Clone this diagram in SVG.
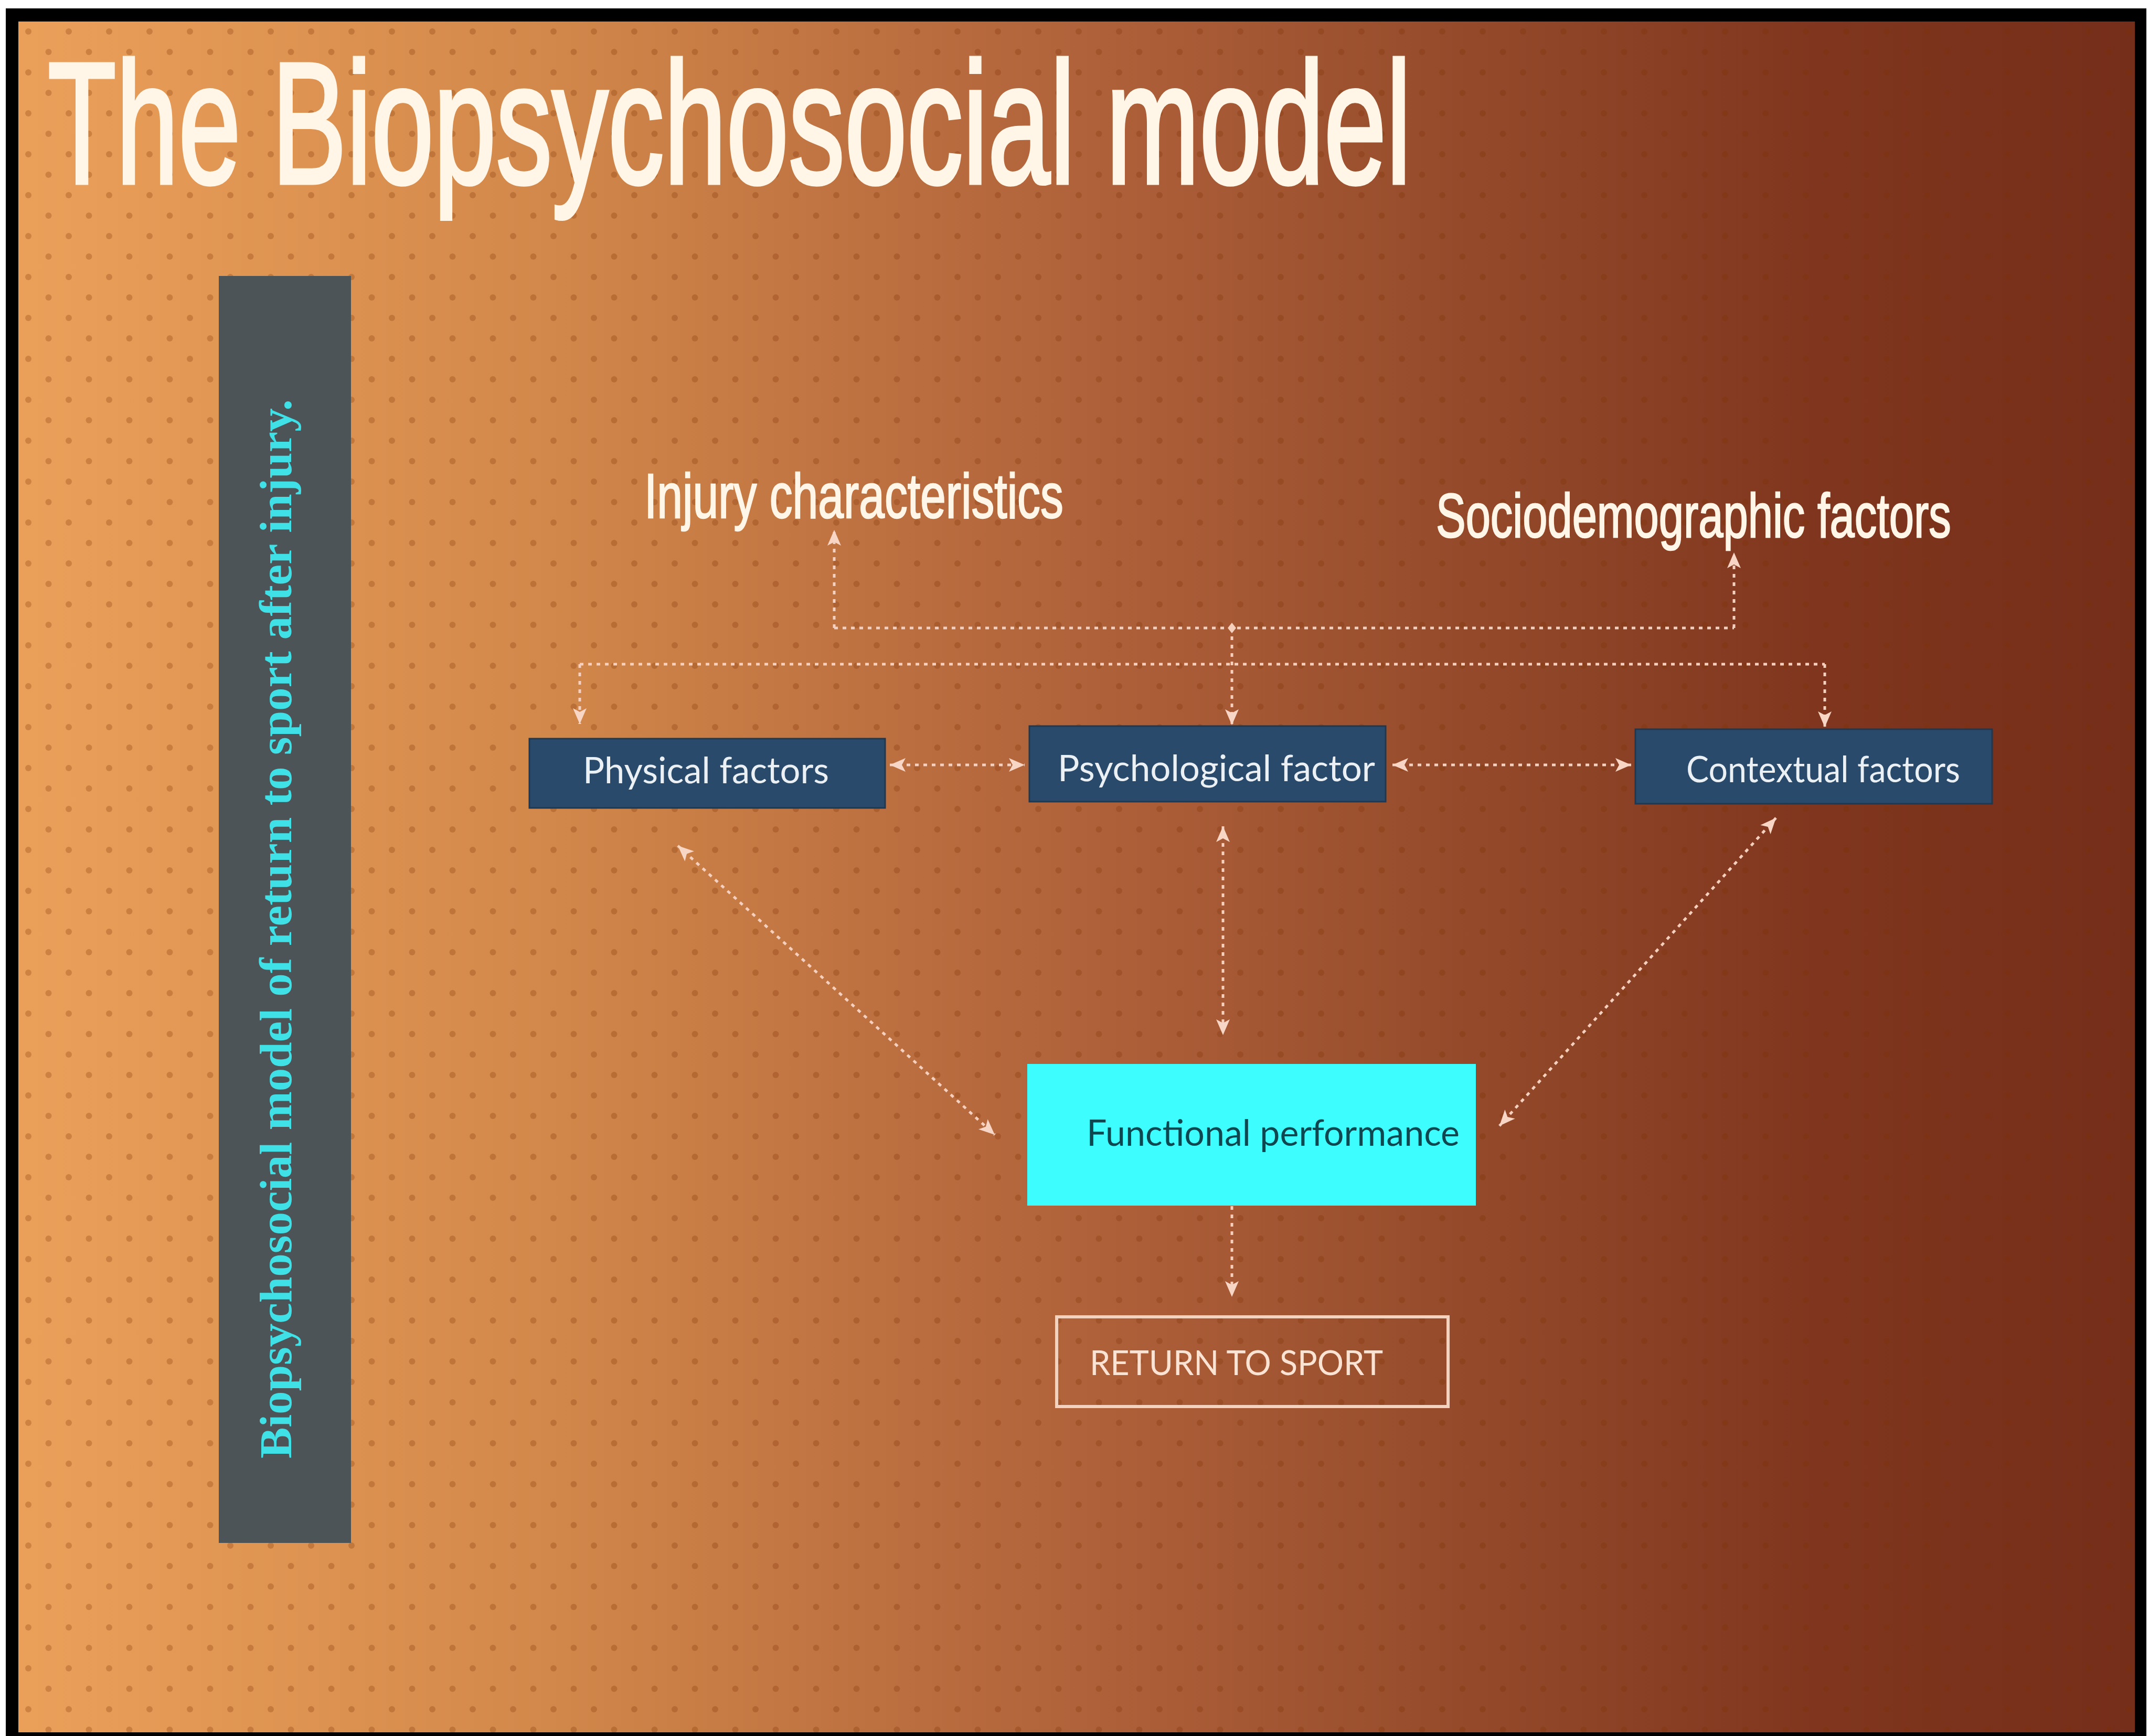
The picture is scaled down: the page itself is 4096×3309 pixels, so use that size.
<svg xmlns="http://www.w3.org/2000/svg" width="4096" height="3309" viewBox="0 0 4096 3309">
<defs>
<linearGradient id="bg" x1="0" y1="0" x2="1" y2="0">
<stop offset="0" stop-color="#EBA05A"/>
<stop offset="0.25" stop-color="#D2884A"/>
<stop offset="0.5" stop-color="#B0623A"/>
<stop offset="0.7" stop-color="#924829"/>
<stop offset="0.85" stop-color="#80361E"/>
<stop offset="1" stop-color="#752E1A"/>
</linearGradient>
<pattern id="dots" x="35" y="41" width="77" height="78" patternUnits="userSpaceOnUse">
<circle cx="19" cy="19" r="6" fill="#7A3000" fill-opacity="0.26"/>
<circle cx="57.5" cy="58" r="6" fill="#7A3000" fill-opacity="0.26"/>
</pattern>
<marker id="ah" markerUnits="userSpaceOnUse" markerWidth="32" markerHeight="28" refX="30" refY="13" orient="auto-start-reverse">
<path d="M0,0 L30,13 L0,26 L7,13 Z" fill="#F8D6C6"/>
</marker>
<style>
.conn{fill:none;stroke:#F6D0BE;stroke-width:5;stroke-dasharray:7 9;}
.box{fill:#2A4A6B;stroke:#1F3850;stroke-width:3;}
.lbl{font-family:Lato,"Open Sans","Liberation Sans",sans-serif;font-size:70px;fill:#EAF0F4;}
.head{font-family:"Liberation Sans Narrow","Liberation Sans",Arial,sans-serif;fill:#FFF6E8;stroke:#FFF6E8;}
</style>
</defs>
<rect x="0" y="0" width="4096" height="3309" fill="#FFFFFF"/>
<rect x="11" y="16" width="4080" height="3293" fill="#000000"/>
<rect x="35" y="41" width="4034" height="3261" fill="url(#bg)"/>
<rect x="35" y="41" width="4034" height="3261" fill="url(#dots)"/>

<text id="title" class="head" transform="translate(91,349) scale(0.65,1)" x="0" y="0" font-size="330" stroke-width="7" textLength="3998" lengthAdjust="spacingAndGlyphs">The Biopsychosocial model</text>

<g id="sidebar">
<rect x="417" y="526" width="252" height="2415" fill="#4C5458"/>
<text transform="translate(555,2780) rotate(-90)" x="0" y="0" font-family="'Liberation Serif','DejaVu Serif',serif" font-weight="bold" font-size="86" fill="#3FE0E6" textLength="2019" lengthAdjust="spacingAndGlyphs">Biopsychosocial model of return to sport after injury.</text>
</g>

<g id="injury-characteristics">
<text class="head" transform="translate(1228,987) scale(0.75,1)" x="0" y="0" font-size="120" stroke-width="2.5" textLength="1065" lengthAdjust="spacingAndGlyphs">Injury characteristics</text>
</g>
<g id="sociodemographic-factors">
<text class="head" transform="translate(2737,1024) scale(0.75,1)" x="0" y="0" font-size="118" stroke-width="2.5" textLength="1309" lengthAdjust="spacingAndGlyphs">Sociodemographic factors</text>
</g>

<g id="connectors">
<path class="conn" d="M1590,1197 L1590,1010" marker-end="url(#ah)"/>
<path class="conn" d="M3305,1197 L3305,1053" marker-end="url(#ah)"/>
<path class="conn" d="M1590,1197 L3305,1197"/>
<path class="conn" d="M1105,1266 L3478,1266"/>
<path class="conn" d="M1105,1266 L1105,1380" marker-end="url(#ah)"/>
<path class="conn" d="M2348,1197 L2348,1382" marker-end="url(#ah)"/>
<path d="M2348,1187 L2356,1197 L2348,1207 L2340,1197 Z" fill="#F6D0BE"/>
<path class="conn" d="M3478,1266 L3478,1386" marker-end="url(#ah)"/>
<path class="conn" d="M1696,1458 L1953,1458" marker-start="url(#ah)" marker-end="url(#ah)"/>
<path class="conn" d="M2654,1458 L3109,1458" marker-start="url(#ah)" marker-end="url(#ah)"/>
<path class="conn" d="M1292,1612 L1896,2163" marker-start="url(#ah)" marker-end="url(#ah)"/>
<path class="conn" d="M3385,1559 L2858,2146" marker-start="url(#ah)" marker-end="url(#ah)"/>
<path class="conn" d="M2331,1575 L2331,1973" marker-start="url(#ah)" marker-end="url(#ah)"/>
<path class="conn" d="M2348,2299 L2348,2472" marker-end="url(#ah)"/>
</g>

<g id="physical-factors">
<rect class="box" x="1009" y="1408" width="678" height="132"/>
<text class="lbl" x="1111" y="1493" textLength="469" lengthAdjust="spacingAndGlyphs">Physical factors</text>
</g>
<g id="psychological-factor">
<rect class="box" x="1962" y="1384" width="679" height="144"/>
<text class="lbl" x="2016" y="1489" textLength="605" lengthAdjust="spacingAndGlyphs">Psychological factor</text>
</g>
<g id="contextual-factors">
<rect class="box" x="3117" y="1390" width="680" height="142"/>
<text class="lbl" x="3214" y="1491" textLength="522" lengthAdjust="spacingAndGlyphs">Contextual factors</text>
</g>
<g id="functional-performance">
<rect x="1958" y="2028" width="855" height="270" fill="#3DFDFF"/>
<text x="2071" y="2184" font-family="Lato,'Open Sans','Liberation Sans',sans-serif" font-size="70" fill="#0E4750" textLength="711" lengthAdjust="spacingAndGlyphs">Functional performance</text>
</g>
<g id="return-to-sport">
<rect x="2014" y="2510" width="746" height="171" fill="none" stroke="#F3D3C0" stroke-width="6"/>
<text x="2077" y="2621" font-family="Lato,'Open Sans','Liberation Sans',sans-serif" font-size="66" fill="#FBE3D3" textLength="559" lengthAdjust="spacingAndGlyphs">RETURN TO SPORT</text>
</g>
</svg>
